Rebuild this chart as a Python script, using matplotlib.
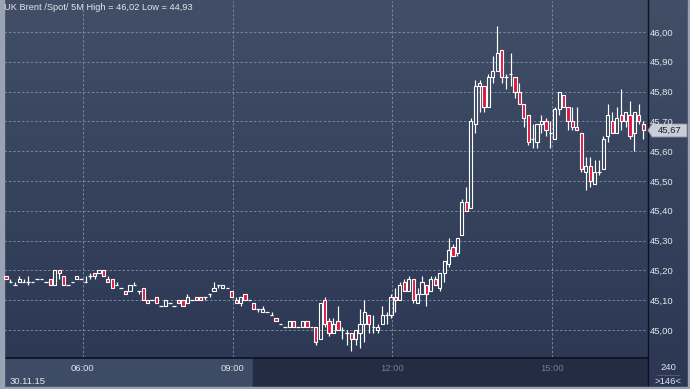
import numpy as np
import matplotlib.pyplot as plt
from matplotlib.patches import Rectangle, Polygon

# UK Brent spot, 5 minute candles, 30.11.15
opens = [45.18, 45.18, 45.16, 45.15, 45.16, 45.16, 45.16, 45.16, 45.17, 45.17,
         45.16, 45.17, 45.15, 45.20, 45.18, 45.15, 45.16, 45.17, 45.17, 45.16,
         45.18, 45.19, 45.19, 45.20, 45.17, 45.17, 45.15, 45.14, 45.13, 45.13,
         45.15, 45.13, 45.14, 45.10, 45.10, 45.11, 45.08, 45.08, 45.09, 45.08,
         45.10, 45.10, 45.09, 45.10, 45.11, 45.11, 45.11, 45.12, 45.13, 45.15,
         45.14, 45.14, 45.13, 45.10, 45.09, 45.12, 45.10, 45.09, 45.07, 45.06,
         45.06, 45.05, 45.04, 45.02, 45.01, 45.01, 45.03, 45.01, 45.01, 45.03,
         45.01, 45.01, 44.97, 45.10, 45.03, 44.99, 45.03, 45.00, 44.99, 44.99,
         44.97, 44.99, 45.02, 45.05, 45.01, 45.00, 45.02, 45.05, 45.05, 45.11,
         45.10, 45.16, 45.13, 45.17, 45.09, 45.12, 45.15, 45.13, 45.17, 45.14,
         45.19, 45.22, 45.28, 45.26, 45.32, 45.43, 45.41, 45.69, 45.82, 45.82,
         45.75, 45.85, 45.87, 45.94, 45.85, 45.86, 45.85, 45.80, 45.76, 45.72,
         45.64, 45.63, 45.69, 45.70, 45.66, 45.64, 45.74, 45.79, 45.75, 45.70,
         45.68, 45.66, 45.53, 45.55, 45.49, 45.53, 45.54, 45.65, 45.70, 45.66,
         45.72, 45.70, 45.72, 45.66, 45.72, 45.69]
highs = [45.19, 45.18, 45.17, 45.16, 45.18, 45.17, 45.18, 45.16, 45.17, 45.17,
         45.16, 45.17, 45.20, 45.20, 45.18, 45.15, 45.16, 45.18, 45.17, 45.18,
         45.19, 45.19, 45.20, 45.20, 45.18, 45.17, 45.16, 45.14, 45.13, 45.15,
         45.16, 45.13, 45.14, 45.10, 45.10, 45.11, 45.08, 45.10, 45.09, 45.08,
         45.10, 45.10, 45.12, 45.10, 45.11, 45.11, 45.11, 45.12, 45.16, 45.15,
         45.15, 45.14, 45.13, 45.11, 45.11, 45.12, 45.10, 45.09, 45.07, 45.08,
         45.06, 45.06, 45.04, 45.02, 45.01, 45.03, 45.03, 45.01, 45.03, 45.03,
         45.01, 45.01, 45.09, 45.11, 45.04, 45.04, 45.08, 45.01, 45.00, 44.99,
         45.00, 45.07, 45.10, 45.05, 45.05, 45.02, 45.08, 45.06, 45.12, 45.14,
         45.16, 45.17, 45.18, 45.17, 45.14, 45.18, 45.15, 45.18, 45.18, 45.19,
         45.23, 45.31, 45.29, 45.31, 45.44, 45.48, 45.71, 45.84, 45.84, 45.82,
         45.86, 45.92, 46.02, 45.94, 45.86, 45.93, 45.85, 45.83, 45.76, 45.72,
         45.69, 45.69, 45.72, 45.71, 45.70, 45.75, 45.80, 45.79, 45.75, 45.75,
         45.75, 45.66, 45.58, 45.58, 45.57, 45.57, 45.65, 45.76, 45.73, 45.75,
         45.81, 45.73, 45.77, 45.73, 45.76, 45.70]
lows = [45.18, 45.17, 45.16, 45.15, 45.16, 45.16, 45.15, 45.16, 45.17, 45.17,
        45.16, 45.15, 45.15, 45.17, 45.15, 45.15, 45.16, 45.17, 45.17, 45.16,
        45.17, 45.17, 45.19, 45.18, 45.16, 45.14, 45.15, 45.14, 45.12, 45.13,
        45.15, 45.12, 45.10, 45.09, 45.10, 45.09, 45.08, 45.08, 45.09, 45.08,
        45.09, 45.08, 45.09, 45.10, 45.10, 45.10, 45.10, 45.11, 45.13, 45.14,
        45.14, 45.14, 45.11, 45.09, 45.08, 45.10, 45.10, 45.07, 45.06, 45.06,
        45.06, 45.05, 45.03, 45.02, 45.01, 45.01, 45.01, 45.01, 45.01, 45.01,
        45.01, 44.95, 44.97, 45.01, 44.98, 44.99, 45.00, 44.97, 44.95, 44.93,
        44.95, 44.94, 44.96, 44.99, 44.99, 44.99, 45.02, 45.02, 45.04, 45.06,
        45.10, 45.13, 45.13, 45.09, 45.09, 45.12, 45.08, 45.13, 45.15, 45.13,
        45.16, 45.21, 45.25, 45.25, 45.32, 45.40, 45.41, 45.66, 45.73, 45.73,
        45.75, 45.83, 45.87, 45.83, 45.81, 45.82, 45.78, 45.76, 45.68, 45.62,
        45.61, 45.61, 45.66, 45.65, 45.61, 45.64, 45.72, 45.75, 45.67, 45.67,
        45.67, 45.53, 45.47, 45.48, 45.49, 45.52, 45.54, 45.63, 45.66, 45.66,
        45.67, 45.68, 45.64, 45.60, 45.69, 45.64]
closes = [45.19, 45.17, 45.16, 45.15, 45.17, 45.16, 45.16, 45.16, 45.17, 45.17,
          45.16, 45.15, 45.20, 45.19, 45.15, 45.15, 45.16, 45.18, 45.17, 45.16,
          45.18, 45.18, 45.20, 45.18, 45.16, 45.14, 45.15, 45.14, 45.12, 45.15,
          45.15, 45.13, 45.10, 45.09, 45.10, 45.09, 45.08, 45.10, 45.09, 45.08,
          45.09, 45.08, 45.11, 45.10, 45.10, 45.10, 45.11, 45.12, 45.14, 45.15,
          45.15, 45.14, 45.11, 45.09, 45.11, 45.10, 45.10, 45.07, 45.07, 45.07,
          45.06, 45.05, 45.03, 45.02, 45.01, 45.03, 45.01, 45.01, 45.03, 45.01,
          45.01, 44.96, 45.09, 45.02, 44.99, 45.02, 45.00, 45.00, 44.99, 44.97,
          45.00, 45.02, 45.06, 45.02, 45.01, 45.01, 45.05, 45.05, 45.11, 45.10,
          45.15, 45.13, 45.17, 45.10, 45.12, 45.16, 45.12, 45.17, 45.15, 45.19,
          45.23, 45.27, 45.25, 45.31, 45.43, 45.40, 45.70, 45.82, 45.83, 45.75,
          45.85, 45.87, 45.93, 45.85, 45.85, 45.86, 45.80, 45.76, 45.71, 45.63,
          45.64, 45.69, 45.70, 45.67, 45.66, 45.74, 45.80, 45.75, 45.70, 45.68,
          45.67, 45.54, 45.55, 45.50, 45.53, 45.53, 45.64, 45.72, 45.66, 45.71,
          45.70, 45.73, 45.65, 45.73, 45.70, 45.67]

time_labels = ['06:00', '09:00', '12:00', '15:00']
time_pos = [18.3, 52.2, 88.2, 124.3]
price_ticks = [45.0, 45.1, 45.2, 45.3, 45.4, 45.5, 45.6, 45.7, 45.8, 45.9, 46.0]
last_price = closes[-1]

W, H = 690, 389
FONT = 'Liberation Sans'
GRID = '#7a86a0'
TXT = '#e2e6ed'
RED = '#e3163f'


def fx(x):
    return x / W


def fy(y):
    return 1 - y / H


fig = plt.figure(figsize=(W / 100, H / 100), dpi=100)

# background gradient over the whole window
bg = fig.add_axes([0, 0, 1, 1])
grad = np.linspace(0, 1, 256)[:, None]
top = np.array([65, 78, 102]) / 255
bot = np.array([43, 55, 83]) / 255
img = top[None, None, :] * (1 - grad[:, :, None]) + bot[None, None, :] * grad[:, :, None]
bg.imshow(img, aspect='auto', extent=[0, W, H, 0])
bg.set_xlim(0, W)
bg.set_ylim(H, 0)
bg.axis('off')

# time strip
bg.add_patch(Rectangle((4, 358), 249, 28, color='#3e4b65', zorder=2))
bg.add_patch(Rectangle((253, 358), 394, 28, color='#222d44', zorder=2))
bg.plot([4, 647], [357.5, 357.5], color='#0c1220', lw=1.2, zorder=3)
bg.plot([647.5, 647.5], [0, 386], color='#0c1220', lw=1.0, zorder=3)
bg.plot([657, 679], [374.5, 374.5], color='#4d5a74', lw=0.7, zorder=3)
# window border
bg.add_patch(Rectangle((0, 0), 3.5, H, color='#9aa3b4', zorder=4))
bg.add_patch(Rectangle((0, 386.5), W, 3, color='#9aa3b4', zorder=4))
bg.add_patch(Rectangle((688, 0), 2, H, color='#9aa3b4', zorder=4))

ax = fig.add_axes([fx(4), fy(357), fx(643), 356 / H])
ax.set_facecolor('none')
x = np.arange(len(opens))
o = np.array(opens)
c = np.array(closes)
hi = np.array(highs)
lo = np.array(lows)
btop = np.maximum(o, c)
bbot = np.minimum(o, c)

ax.vlines(x, btop, hi, color='white', lw=0.85, zorder=3)
ax.vlines(x, lo, bbot, color='white', lw=0.85, zorder=3)
flat = c == o
up = (c > o)
down = (c < o)
ax.bar(x[up], (c - o)[up], bottom=o[up], width=0.72, facecolor='none',
       edgecolor='white', linewidth=0.8, zorder=4)
ax.bar(x[down], (o - c)[down], bottom=c[down], width=0.72, facecolor=RED,
       edgecolor='white', linewidth=0.8, zorder=4)
ax.hlines(c[flat], x[flat] - 0.4, x[flat] + 0.4, color='white', lw=0.9, zorder=4)

ax.set_xlim(0.548, 145.84)
ax.set_ylim(45 - 27 / 298, 45 + 329 / 298)
for p in price_ticks:
    ax.axhline(p, color=GRID, lw=0.7, ls=(0, (2.5, 2)), zorder=1)
for t in time_pos:
    ax.axvline(t, color=GRID, lw=0.7, ls=(0, (2.5, 2)), zorder=1)
for s in ax.spines.values():
    s.set_visible(False)
ax.set_xticks([])
ax.yaxis.tick_right()
ax.set_yticks(price_ticks)
ax.set_yticklabels([f'{p:.2f}'.replace('.', ',') for p in price_ticks],
                   fontsize=6.8, color=TXT, family=FONT)
ax.tick_params(axis='y', length=0, pad=2.2)

bg.text(4.5, 7.5, 'UK Brent /Spot/ 5M High = 46,02 Low = 44,93',
        ha='left', va='center', fontsize=6.7, color=TXT, family=FONT, zorder=5)

# last price marker
bg.add_patch(Polygon([[648, 130.3], [652, 124], [687, 124], [687, 137], [652, 137]],
                     closed=True, facecolor='#c9cdd6', edgecolor='#8a92a3',
                     lw=0.6, zorder=6))
bg.text(669.5, 130.8, f'{last_price:.2f}'.replace('.', ','), ha='center',
        va='center', fontsize=6.8, color='#1b2232', family=FONT, zorder=7)

# time labels
x0, x1 = ax.get_xlim()
for lab, t in zip(time_labels, time_pos):
    px = 4 + (t - x0) / (x1 - x0) * 643
    col = TXT if px < 253 else '#6f7b93'
    bg.text(px, 368.5, lab, ha='center', va='center', fontsize=6.8, color=col,
            family=FONT, zorder=5)
bg.text(10, 381, '30.11.15', ha='left', va='center', fontsize=6.8, color=TXT,
        family=FONT, zorder=5)
bg.text(668, 368, '240', ha='center', va='center', fontsize=6.8, color=TXT,
        family=FONT, zorder=5)
bg.text(668, 381, '>146<', ha='center', va='center', fontsize=6.8, color=TXT,
        family=FONT, zorder=5)

fig.savefig('out.png', dpi=100)
